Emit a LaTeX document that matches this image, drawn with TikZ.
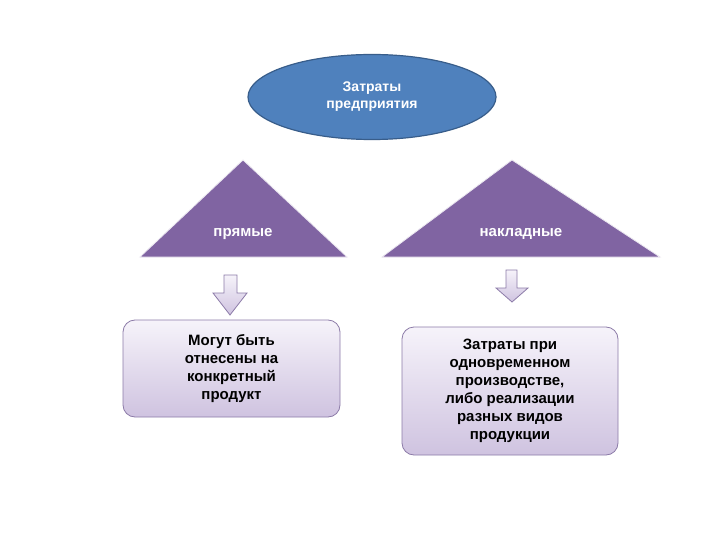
\documentclass[tikz,border=0pt]{standalone}
\usepackage{fontspec}
\setmainfont{Liberation Sans}
\usetikzlibrary{shapes.geometric}
\definecolor{elfill}{HTML}{4F81BD}
\definecolor{eldraw}{HTML}{385D8A}
\definecolor{trifill}{HTML}{8064A2}
\definecolor{boxtop}{HTML}{F6F3FA}
\definecolor{boxbot}{HTML}{CFC3E0}
\definecolor{boxdraw}{HTML}{8C7BA8}
\tikzset{
  lbl/.style={font=\bfseries\fontsize{15}{18}\selectfont, align=center},
  boxst/.style={draw=boxdraw, line width=0.8pt, rounded corners=12pt, top color=boxtop, bottom color=boxbot},
  arrst/.style={draw=boxdraw, line width=0.8pt, top color=boxtop, bottom color=boxbot},
  trist/.style={fill=trifill, draw=white!85!trifill, line width=0.8pt}
}
\begin{document}
\begin{tikzpicture}[x=1pt,y=-1pt]
\useasboundingbox[fill=white] (0,0) rectangle (720,540);
\node[ellipse, draw=eldraw, line width=1.2pt, fill=elfill, minimum width=248pt, minimum height=85pt, text=white, lbl, font=\bfseries\fontsize{14}{17}\selectfont] (top) at (372,97) {Затраты\\предприятия};
\draw[trist] (243,160) -- (347,257) -- (140,257) -- cycle;
\draw[trist] (512,160) -- (660,257) -- (382,257) -- cycle;
\node[lbl, text=white] (pr) at (243,234) {прямые};
\node[lbl, text=white] (nk) at (521,234) {накладные};
\draw[arrst] (224,275) -- (237,275) -- (237,293) -- (247,293) -- (230,315) -- (213,293) -- (224,293) -- cycle;
\draw[arrst] (506,270) -- (517,270) -- (517,288) -- (528,288) -- (512,302) -- (496,288) -- (506,288) -- cycle;
\node[boxst, minimum width=217pt, minimum height=97pt] (b1) at (231.5,368.5) {};
\node[lbl, text=black] at (b1) {Могут быть\\отнесены на\\конкретный\\продукт};
\node[boxst, minimum width=216pt, minimum height=128pt] (b2) at (510,391) {};
\node[lbl, text=black] at (b2) {Затраты при\\одновременном\\производстве,\\либо реализации\\разных видов\\продукции};
\end{tikzpicture}
\end{document}
